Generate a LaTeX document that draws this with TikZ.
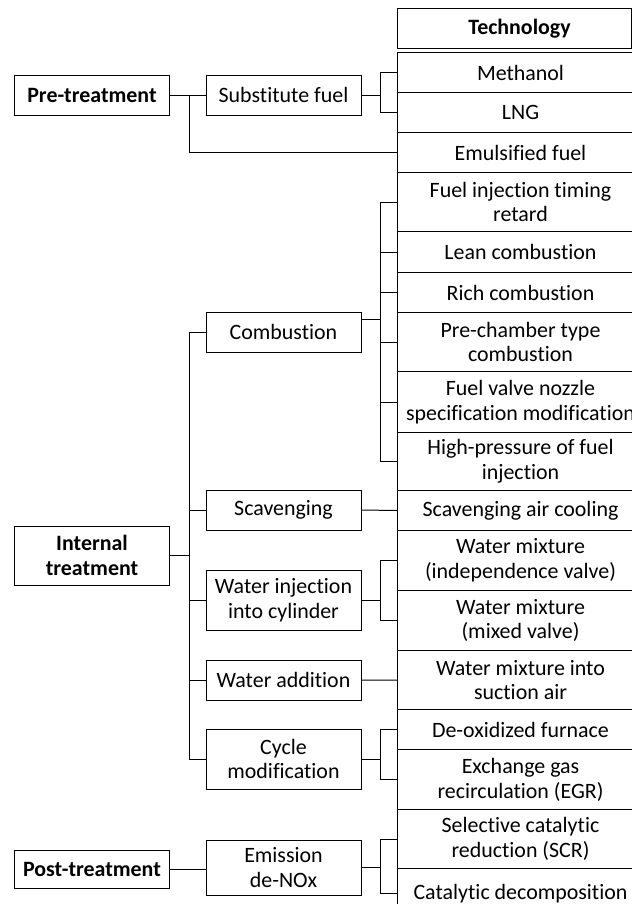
\documentclass[tikz,border=0pt]{standalone}
\usepackage{fontspec}
\setmainfont[Ligatures={NoCommon}]{Carlito}

\begin{document}
\begin{tikzpicture}[x=1bp,y=1bp,line width=1bp]
	\tikzstyle{every node}+=[inner sep=0pt,font=\fontsize{22}{25}\selectfont]
	\tikzstyle{catbox}=[draw,rectangle,align=center,minimum width=154bp,font=\fontsize{22}{25}\selectfont\bfseries]
	\tikzstyle{subbox}=[draw,rectangle,align=center,minimum width=155bp]
	\tikzstyle{techbox}=[draw,rectangle,align=center,anchor=north west,minimum width=246bp]
	\useasboundingbox (0,0) rectangle (632,-904);
	% bus positions
	\coordinate (lbus) at (189,0);
	\coordinate (rbus) at (380,0);
	% left column
	\node [catbox,minimum height=40bp] (pre) at (92,-95) {Pre-treatment};
	\node [catbox,minimum height=59bp] (internal) at (92,-555.5) {Internal\\treatment};
	\node [catbox,minimum height=38bp] (post) at (92,-869) {Post-treatment};
	% middle column
	\node [subbox,minimum height=40bp] (subfuel) at (283.5,-95) {Substitute fuel};
	\node [subbox,minimum height=40bp] (comb) at (283.5,-332) {Combustion};
	\node [subbox,minimum height=40bp] (scav) at (283.5,-510) {Scavenging};
	\node [subbox,minimum height=60bp] (wateri) at (283.5,-600) {Water injection\\into cylinder};
	\node [subbox,minimum height=40bp] (watera) at (283.5,-680) {Water addition};
	\node [subbox,minimum height=60bp] (cycle) at (283.5,-759) {Cycle\\modification};
	\node [subbox,minimum height=55bp] (emis) at (283.5,-867.5) {Emission\\de-NOx};
	% right column
	\node [techbox,minimum width=234bp,minimum height=40bp,font=\fontsize{22}{25}\selectfont\bfseries] (tech) at (397,-8) {\hspace*{10bp}Technology};
	\node [techbox,minimum height=40bp] (meth) at (397,-52) {Methanol};
	\node [techbox,minimum height=40bp] (lng) at (397,-92) {LNG};
	\node [techbox,minimum height=40bp] (emul) at (397,-132) {Emulsified fuel};
	\node [techbox,minimum height=59bp] (fuelinj) at (397,-172) {Fuel injection timing\\retard};
	\node [techbox,minimum height=41bp] (lean) at (397,-231) {Lean combustion};
	\node [techbox,minimum height=40bp] (rich) at (397,-272) {Rich combustion};
	\node [techbox,minimum height=59bp] (prech) at (397,-312) {Pre-chamber type\\combustion};
	\node [techbox,minimum height=61bp] (fvalve) at (397,-371) {Fuel valve nozzle\\specification modification};
	\node [techbox,minimum height=58bp] (highp) at (397,-432) {High-pressure of fuel\\injection};
	\node [techbox,minimum height=40bp] (scavair) at (397,-490) {Scavenging air cooling};
	\node [techbox,minimum height=60bp] (wmixa) at (397,-530) {Water mixture\\(independence valve)};
	\node [techbox,minimum height=60bp] (wmixb) at (397,-590) {Water mixture\\(mixed valve)};
	\node [techbox,minimum height=59bp] (suction) at (397,-650) {Water mixture into\\suction air};
	\node [techbox,minimum height=40bp] (deox) at (397,-709) {De-oxidized furnace};
	\node [techbox,minimum height=60bp] (egr) at (397,-749) {Exchange gas\\recirculation (EGR)};
	\node [techbox,minimum height=59bp] (scr) at (397,-809) {Selective catalytic\\reduction (SCR)};
	\node [techbox,minimum height=50bp] (catal) at (397,-868) {Catalytic decomposition};
	% pre-treatment
	\draw (pre.east) -- (subfuel.west);
	\draw (pre.east -| lbus) |- (emul.west);
	\draw (subfuel.east) -- (subfuel.east -| rbus);
	\draw (meth.west) -- (meth.west -| rbus) -- (lng.west -| rbus) -- (lng.west);
	% internal treatment
	\draw (comb.west) -- (comb.west -| lbus) -- (cycle.west -| lbus) -- (cycle.west);
	\draw (internal.east) -- (internal.east -| lbus);
	\draw (scav.west) -- (scav.west -| lbus);
	\draw (wateri.west) -- (wateri.west -| lbus);
	\draw (watera.west) -- (watera.west -| lbus);
	\draw ([yshift=13bp]comb.east) -- ([yshift=13bp]comb.east -| rbus);
	\draw (fuelinj.west) -- (fuelinj.west -| rbus) -- (highp.west -| rbus) -- (highp.west);
	\draw (lean.west) -- (lean.west -| rbus);
	\draw (rich.west) -- (rich.west -| rbus);
	\draw (prech.west) -- (prech.west -| rbus);
	\draw (fvalve.west) -- (fvalve.west -| rbus);
	\draw (scav.east) -- (scavair.west);
	\draw (wateri.east) -- (wateri.east -| rbus);
	\draw (wmixa.west) -- (wmixa.west -| rbus) -- (wmixb.west -| rbus) -- (wmixb.west);
	\draw (watera.east) -- (suction.west);
	\draw (cycle.east) -- (cycle.east -| rbus);
	\draw (deox.west) -- (deox.west -| rbus) -- (egr.west -| rbus) -- (egr.west);
	% post-treatment
	\draw (post.east) -- (post.east -| emis.west);
	\draw (emis.east) -- (emis.east -| rbus);
	\draw (scr.west) -- (scr.west -| rbus) -- (catal.west -| rbus) -- (catal.west);
\end{tikzpicture}
\end{document}
